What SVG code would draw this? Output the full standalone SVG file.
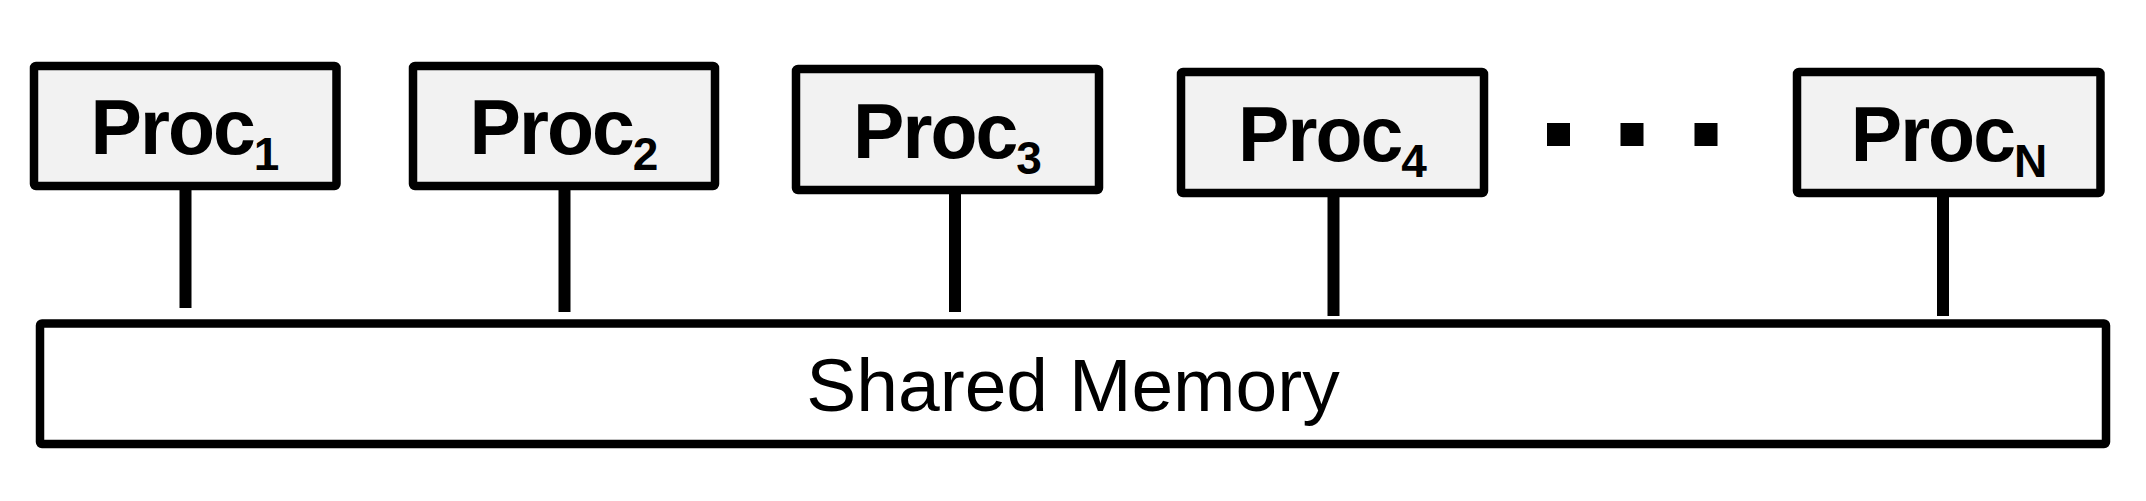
<svg xmlns="http://www.w3.org/2000/svg" width="2146" height="501" viewBox="0 0 2146 501">
<style>
.proc rect{fill:#f2f2f2;stroke:#000;stroke-width:8.5}
.proc text{font-family:"Liberation Sans",Arial,sans-serif;font-weight:bold;font-size:77px;letter-spacing:-2px;fill:#000;text-anchor:middle}
.sub{font-size:46px;letter-spacing:0}
.conn line{stroke:#000;stroke-width:12}
.mem rect{fill:#fff;stroke:#000;stroke-width:8.5}
.mem text{font-family:"Liberation Sans",Arial,sans-serif;font-size:75px;fill:#000;text-anchor:middle}
.dots rect{fill:#000}
</style>
<rect width="2146" height="501" fill="#fff"/>
<g id="connectors" class="conn">
<line x1="185.5" y1="186" x2="185.5" y2="308"/>
<line x1="564.5" y1="186" x2="564.5" y2="312"/>
<line x1="955" y1="190" x2="955" y2="312"/>
<line x1="1333.5" y1="193" x2="1333.5" y2="316"/>
<line x1="1943" y1="193" x2="1943" y2="316"/>
</g>
<g id="proc1" class="proc"><rect x="34" y="66" width="302.5" height="120" rx="2"/><text x="185" y="154">Proc<tspan class="sub" dy="16">1</tspan></text></g>
<g id="proc2" class="proc"><rect x="413" y="66" width="302" height="120" rx="2"/><text x="564" y="154">Proc<tspan class="sub" dy="16">2</tspan></text></g>
<g id="proc3" class="proc"><rect x="796" y="69" width="303" height="121" rx="2"/><text x="947.5" y="157.5">Proc<tspan class="sub" dy="16">3</tspan></text></g>
<g id="proc4" class="proc"><rect x="1181" y="72" width="303" height="121" rx="2"/><text x="1332.5" y="160.5">Proc<tspan class="sub" dy="16">4</tspan></text></g>
<g id="procN" class="proc"><rect x="1797" y="72" width="303.5" height="121" rx="2"/><text x="1949" y="160.5">Proc<tspan class="sub" dy="16">N</tspan></text></g>
<g id="ellipsis" class="dots">
<rect x="1547" y="123" width="23" height="23"/>
<rect x="1620.5" y="123" width="23" height="23"/>
<rect x="1694.5" y="123" width="23" height="23"/>
</g>
<g id="shared-memory" class="mem"><rect x="40" y="323.5" width="2066" height="120.5" rx="2"/><text x="1073" y="410.5">Shared Memory</text></g>
</svg>
